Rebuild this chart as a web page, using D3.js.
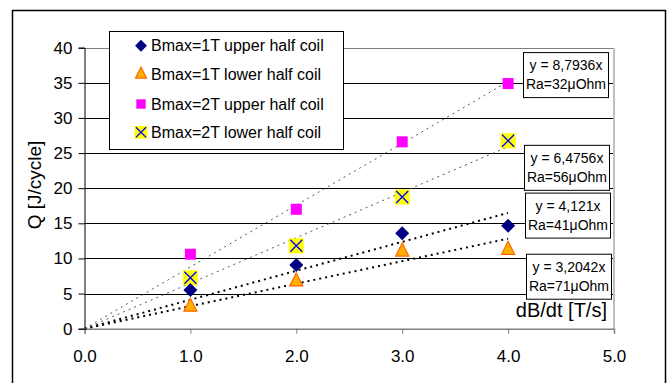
<!DOCTYPE html>
<html><head><meta charset="utf-8">
<script src="https://cdn.jsdelivr.net/npm/d3@7"></script>
<style>body{margin:0;background:#fff}svg{display:block;font-family:"Liberation Sans",Arial,sans-serif}</style>
</head><body><svg id="c" width="670" height="383"></svg>
<script>
const xTicks = [0, 1, 2, 3, 4, 5];
const yTicks = [0, 5, 10, 15, 20, 25, 30, 35, 40];
const dBdt = [1, 2, 3, 4];
const seriesNames = ["Bmax=1T upper half coil", "Bmax=1T lower half coil", "Bmax=2T upper half coil", "Bmax=2T lower half coil"];
const q1Tupper = [5.5, 9.05, 13.6, 14.65];
const q1Tlower = [3.2, 6.8, 11.05, 11.3];
const q2Tupper = [10.6, 17.0, 26.6, 34.9];
const q2Tlower = [7.25, 11.8, 18.75, 26.75];
const slopes = [4.121, 3.2042, 8.7936, 6.4756];
const fitLabels = [["y = 4,121x", "Ra=41μOhm"], ["y = 3,2042x", "Ra=71μOhm"], ["y = 8,7936x", "Ra=32μOhm"], ["y = 6,4756x", "Ra=56μOhm"]];
const fitLabelY = [16.1, 7.4, 36.1, 22.9]; // label centre in data units

const svg = d3.select("#c");
const x = d3.scaleLinear().domain([0, 5]).range([84.5, 614]);
const y = d3.scaleLinear().domain([0, 40]).range([328.7, 47.7]);

// outer border
svg.append("rect").attr("x", 12.5).attr("y", 10.5).attr("width", 653).attr("height", 380)
  .attr("fill", "#fff").attr("stroke", "#000").attr("stroke-width", 1.5);

// gridlines
svg.append("g").selectAll("line").data(yTicks.filter(d => d > 0)).join("line")
  .attr("x1", x(0)).attr("x2", x(5)).attr("y1", d => Math.round(y(d)) + 0.5).attr("y2", d => Math.round(y(d)) + 0.5)
  .attr("stroke", d => d === 40 ? "#808080" : "#000").attr("stroke-width", 1);
// plot right border
svg.append("line").attr("x1", x(5)).attr("x2", x(5)).attr("y1", y(40)).attr("y2", y(0))
  .attr("stroke", "#c0c0c0").attr("stroke-width", 2);

// axes
const yAxis = d3.axisLeft(y).tickValues(yTicks).tickSize(6).tickPadding(6).tickFormat(d3.format("d"));
const gy = svg.append("g").attr("transform", `translate(${x(0)},0)`).call(yAxis);
gy.select(".domain").attr("stroke", "#000");
gy.selectAll(".tick line").attr("stroke", "#000");
gy.selectAll("text").attr("font-size", 17).attr("fill", "#000").attr("font-family", "Liberation Sans, Arial, sans-serif");

const xAxis = d3.axisBottom(x).tickValues(xTicks).tickSize(5).tickPadding(16).tickFormat(d3.format(".1f"));
const gx = svg.append("g").attr("transform", `translate(0,${y(0)})`).call(xAxis);
gx.select(".domain").attr("stroke", "#808080").attr("stroke-width", 1.5);
gx.selectAll(".tick line").attr("stroke", "#808080");
gx.selectAll("text").attr("font-size", 17).attr("fill", "#000").attr("font-family", "Liberation Sans, Arial, sans-serif");

// axis titles
svg.append("text").attr("transform", `translate(41,185) rotate(-90)`).attr("text-anchor", "middle")
  .attr("font-size", 19).text("Q [J/cycle]");
svg.append("text").attr("x", 607).attr("y", 317).attr("text-anchor", "end")
  .attr("font-size", 20).text("dB/dt [T/s]");

// trend lines
const trendStyle = [
  {stroke: "#000", w: 2, dash: "2,4"},
  {stroke: "#000", w: 2, dash: "2,4"},
  {stroke: "#555", w: 1, dash: "2,4"},
  {stroke: "#555", w: 1, dash: "2,4"}
];
slopes.forEach((s, i) => {
  svg.append("line").attr("x1", x(0)).attr("y1", y(0)).attr("x2", x(4)).attr("y2", y(s * 4))
    .attr("stroke", trendStyle[i].stroke).attr("stroke-width", trendStyle[i].w)
    .attr("stroke-dasharray", trendStyle[i].dash);
});

// marker drawing
function marker(g, type, cx, cy, scale) {
  const k = scale || 1;
  if (type === 0) {
    g.append("path").attr("d", `M${cx},${cy - 7 * k}L${cx + 7 * k},${cy}L${cx},${cy + 7 * k}L${cx - 7 * k},${cy}Z`)
      .attr("fill", "#000080");
  } else if (type === 1) {
    g.append("path").attr("d", `M${cx},${cy - 8 * k}L${cx + 6.5 * k},${cy + 5 * k}L${cx - 6.5 * k},${cy + 5 * k}Z`)
      .attr("fill", "#ffb000").attr("stroke", "#ff6600").attr("stroke-width", 1.2);
  } else if (type === 2) {
    g.append("rect").attr("x", cx - 5.5 * k).attr("y", cy - 5.5 * k).attr("width", 11 * k).attr("height", 11 * k)
      .attr("fill", "#ff00ff");
  } else {
    g.append("rect").attr("x", cx - 7.5 * k).attr("y", cy - 7.5 * k).attr("width", 15 * k).attr("height", 15 * k)
      .attr("fill", "#ffff00");
    g.append("path").attr("d", `M${cx - 6 * k},${cy - 6 * k}L${cx + 6 * k},${cy + 6 * k}M${cx + 6 * k},${cy - 6 * k}L${cx - 6 * k},${cy + 6 * k}`)
      .attr("stroke", "#0000ff").attr("stroke-width", 1.3);
  }
}
const allSeries = [q1Tupper, q1Tlower, q2Tupper, q2Tlower];
const mg = svg.append("g");
[3, 2, 0, 1].forEach(si => {
  allSeries[si].forEach((v, j) => marker(mg, si, x(dBdt[j]), y(v)));
});

// fit label boxes
const boxG = svg.append("g");
const boxX = [525.5, 526.5, 523.5, 524.5];
fitLabelY.forEach((ly, i) => {
  const cy = y(ly);
  boxG.append("rect").attr("x", boxX[i]).attr("y", cy - 22.5).attr("width", 85).attr("height", 45)
    .attr("fill", "#fff").attr("stroke", "#000").attr("stroke-width", 1);
  fitLabels[i].forEach((t, k) => {
    boxG.append("text").attr("x", boxX[i] + 42.5).attr("y", cy - 5 + k * 19).attr("text-anchor", "middle")
      .attr("font-size", 14).text(t);
  });
});

// legend
const lg = svg.append("g");
lg.append("rect").attr("x", 109.5).attr("y", 31.5).attr("width", 234).attr("height", 118)
  .attr("fill", "#fff").attr("stroke", "#000").attr("stroke-width", 1);
const legendY = [45.7, 74, 104, 132.3];
seriesNames.forEach((n, i) => {
  marker(lg, i, 141, legendY[i], 0.85);
  lg.append("text").attr("x", 151).attr("y", legendY[i] + 5.5).attr("font-size", 16).text(n);
});
</script></body></html>
